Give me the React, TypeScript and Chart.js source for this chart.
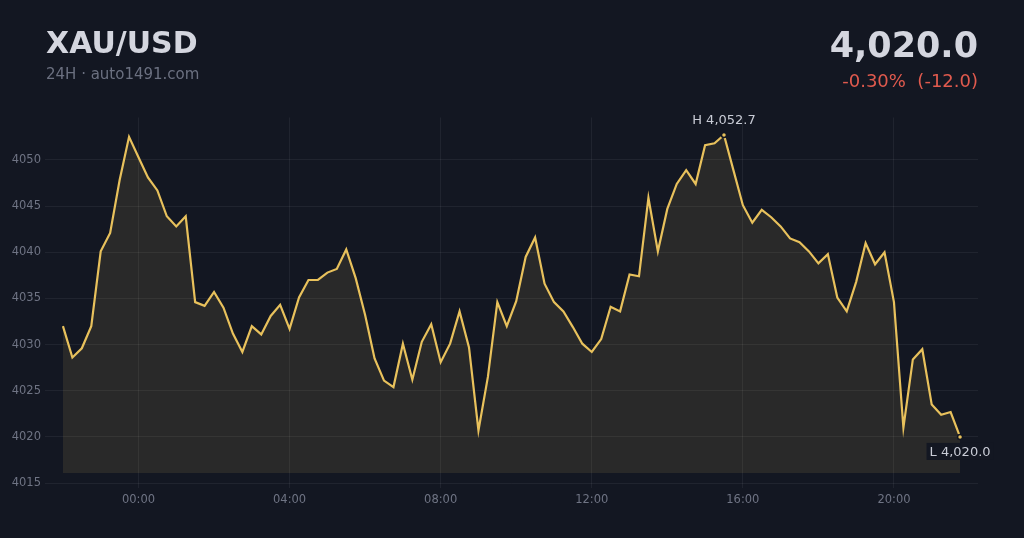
import { useEffect, useRef } from "react"
import { Chart, registerables } from "chart.js"

Chart.register(...registerables)

// 15-minute closes, starting 22:00 the previous day
const startMinute = -120
const stepMinutes = 15
const prices = [
  4032.0, 4028.6, 4029.6, 4032.0, 4040.1, 4042.1, 4047.8, 4052.5,
  4050.3, 4048.1, 4046.7, 4043.9, 4042.8, 4043.9, 4034.6, 4034.2,
  4035.7, 4034.0, 4031.2, 4029.2, 4032.0, 4031.1, 4033.1, 4034.3,
  4031.7, 4035.1, 4037.0, 4037.0, 4037.8, 4038.2, 4040.3, 4037.2,
  4033.2, 4028.5, 4026.1, 4025.4, 4030.1, 4026.2, 4030.3, 4032.2,
  4028.1, 4030.1, 4033.6, 4029.7, 4020.7, 4026.5, 4034.6, 4032.0,
  4034.7, 4039.5, 4041.6, 4036.6, 4034.6, 4033.6, 4031.9, 4030.1,
  4029.2, 4030.6, 4034.1, 4033.6, 4037.6, 4037.4, 4045.9, 4040.1,
  4044.7, 4047.4, 4048.9, 4047.4, 4051.6, 4051.8, 4052.7, 4048.9,
  4045.1, 4043.2, 4044.6, 4043.8, 4042.8, 4041.5, 4041.1, 4040.1,
  4038.8, 4039.8, 4035.1, 4033.6, 4036.8, 4041.0, 4038.7, 4040.0,
  4034.6, 4021.0, 4028.4, 4029.5, 4023.5, 4022.4, 4022.7, 4020.0,
]
const xTickMinutes = [0, 240, 480, 720, 960, 1200]
const xTickLabels = ["00:00", "04:00", "08:00", "12:00", "16:00", "20:00"]
const yTicks = [4015, 4020, 4025, 4030, 4035, 4040, 4045, 4050]

const BG = "#131722"
const GOLD = "#e8c15c"
const GRID = "rgba(255, 255, 255, 0.06)"
const TICK = "#6f7484"
const FONT = "'DejaVu Sans', Verdana, sans-serif"

const fmt = (v: number) =>
  v.toLocaleString("en-US", { minimumFractionDigits: 1, maximumFractionDigits: 1 })

const last = prices[prices.length - 1]
const change = last - prices[0]
const changePct = (change / prices[0]) * 100
const hi = Math.max(...prices)
const lo = Math.min(...prices)
const hiIndex = prices.indexOf(hi)
const loIndex = prices.lastIndexOf(lo)

// H / L labels next to the extreme points
const hiLoLabels = {
  id: "hiLoLabels",
  afterDatasetsDraw(chart: Chart) {
    const meta = chart.getDatasetMeta(0)
    const hiPt = meta.data[hiIndex]
    const loPt = meta.data[loIndex]
    const { ctx } = chart
    ctx.save()
    ctx.font = `13px ${FONT}`
    ctx.textAlign = "center"

    ctx.fillStyle = "#c9ccd6"
    ctx.textBaseline = "alphabetic"
    ctx.fillText(`H ${fmt(hi)}`, hiPt.x, hiPt.y - 11)

    const loText = `L ${fmt(lo)}`
    const w = ctx.measureText(loText).width
    ctx.fillStyle = BG
    ctx.fillRect(loPt.x - w / 2 - 3, loPt.y + 6, w + 6, 17)
    ctx.fillStyle = "#c9ccd6"
    ctx.textBaseline = "top"
    ctx.fillText(loText, loPt.x, loPt.y + 9)
    ctx.restore()
  },
}

function PriceChart() {
  const chartRef = useRef<HTMLCanvasElement | null>(null)
  const chartInstance = useRef<Chart | null>(null)

  useEffect(() => {
    if (!chartRef.current) return

    Chart.defaults.font.family = FONT

    const ctx = chartRef.current.getContext("2d")
    if (!ctx) return

    chartInstance.current = new Chart(ctx, {
      type: "line",
      data: {
        datasets: [
          {
            data: prices.map((p, i) => ({ x: startMinute + i * stepMinutes, y: p })),
            borderColor: GOLD,
            borderWidth: 2.2,
            backgroundColor: "rgba(240, 205, 110, 0.1)",
            fill: { value: 4016.1 },
            tension: 0,
            pointRadius: prices.map((_, i) => (i === hiIndex || i === loIndex ? 2.5 : 0)),
            pointBackgroundColor: GOLD,
            pointBorderColor: BG,
            pointBorderWidth: 1.5,
          },
        ],
      },
      options: {
        animation: false,
        responsive: false,
        events: [],
        layout: { padding: { top: 117.5, right: 46, bottom: 0, left: 0 } },
        plugins: {
          legend: { display: false },
          tooltip: { enabled: false },
        },
        scales: {
          x: {
            type: "linear",
            min: -148.5,
            max: 1333.5,
            afterFit: (s: any) => {
              s.height = 50.3
            },
            afterBuildTicks: (s: any) => {
              s.ticks = xTickMinutes.map((v) => ({ value: v }))
            },
            ticks: {
              color: TICK,
              font: { size: 11.5 },
              padding: 5,
              autoSkip: false,
              maxRotation: 0,
              callback: (v: any) => xTickLabels[xTickMinutes.indexOf(Number(v))] ?? "",
            },
            grid: { color: GRID, drawTicks: false },
            border: { display: false },
          },
          y: {
            min: 4014.5,
            max: 4054.6,
            afterFit: (s: any) => {
              s.width = 45
            },
            afterBuildTicks: (s: any) => {
              s.ticks = yTicks.map((v) => ({ value: v }))
            },
            ticks: {
              color: TICK,
              font: { size: 11.5 },
              padding: 4,
              callback: (v: any) => String(v),
            },
            grid: { color: GRID, drawTicks: false },
            border: { display: false },
          },
        },
      },
      plugins: [hiLoLabels],
    })

    return () => {
      if (chartInstance.current) {
        chartInstance.current.destroy()
        chartInstance.current = null
      }
    }
  }, [])

  return (
    <canvas
      ref={chartRef}
      width={1024}
      height={538}
      style={{ position: "absolute", left: 0, top: 0, width: 1024, height: 538 }}
    />
  )
}

export default function App() {
  return (
    <div
      style={{
        position: "fixed",
        left: 0,
        top: 0,
        width: 1024,
        height: 538,
        background: BG,
        fontFamily: FONT,
        overflow: "hidden",
      }}
    >
      <PriceChart />
      <div
        style={{
          position: "absolute",
          left: 46,
          top: 28,
          fontSize: 30,
          lineHeight: 1,
          fontWeight: 700,
          color: "#d4d6df",
        }}
      >
        XAU/USD
      </div>
      <div
        style={{
          position: "absolute",
          left: 46,
          top: 66.5,
          fontSize: 15,
          lineHeight: 1,
          color: "#6b7080",
        }}
      >
        24H · auto1491.com
      </div>
      <div
        style={{
          position: "absolute",
          right: 46,
          top: 27.5,
          fontSize: 35,
          lineHeight: 1,
          fontWeight: 700,
          color: "#d4d6df",
        }}
      >
        {fmt(last)}
      </div>
      <div
        style={{
          position: "absolute",
          right: 46,
          top: 72,
          fontSize: 18,
          lineHeight: 1,
          color: "#e05a4e",
          whiteSpace: "pre",
        }}
      >
        {`${changePct.toFixed(2)}%  (${change.toFixed(1)})`}
      </div>
    </div>
  )
}
